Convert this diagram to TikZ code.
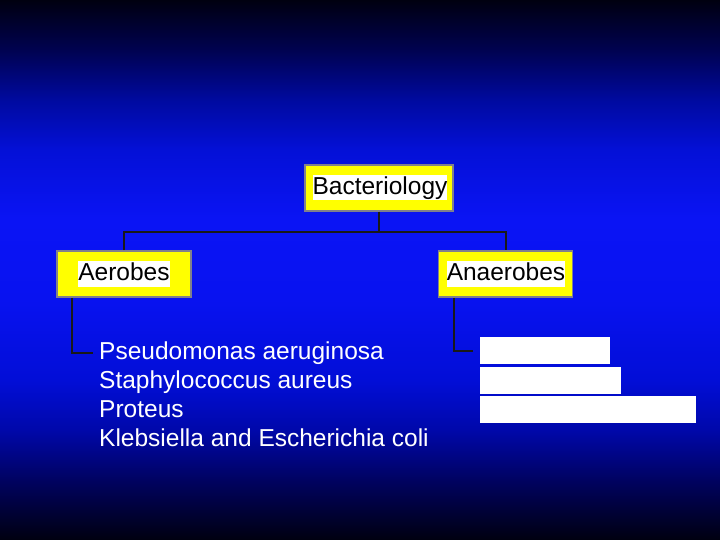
\documentclass[tikz,border=0pt]{standalone}
\usepackage{fontspec}
\setmainfont{Liberation Sans}
\usetikzlibrary{calc}
\definecolor{c0}{RGB}{0,0,16}
\definecolor{c1}{RGB}{0,2,80}
\definecolor{c2}{RGB}{0,10,160}
\definecolor{c3}{RGB}{4,16,215}
\definecolor{c4}{RGB}{10,20,245}
\definecolor{c5}{RGB}{8,18,240}
\definecolor{c6}{RGB}{2,14,215}
\definecolor{c7}{RGB}{0,8,170}
\definecolor{c8}{RGB}{0,2,96}
\definecolor{c9}{RGB}{0,0,16}
\definecolor{ybox}{RGB}{255,255,0}
\definecolor{yborder}{RGB}{128,128,140}
\pgfdeclareverticalshading{bgshade}{100bp}{%
color(0bp)=(c9); color(25bp)=(c9);
color(30.5bp)=(c8); color(35.2bp)=(c7); color(39.8bp)=(c6);
color(47.2bp)=(c5); color(54.6bp)=(c4); color(61.1bp)=(c3);
color(65.7bp)=(c2); color(70.4bp)=(c1);
color(75bp)=(c0); color(100bp)=(c0)}
\tikzset{
  ybx/.style={draw=yborder, line width=1.5bp, fill=ybox, minimum width=134bp, minimum height=46bp, inner sep=0pt},
  hl/.style={fill=white, inner sep=0pt, text height=19bp, text depth=6bp, font=\fontsize{24.5bp}{28bp}\selectfont, text=black},
  item/.style={inner sep=0pt, anchor=base west, text=white, text height=18bp, text depth=5bp, font=\fontsize{24.5bp}{28bp}\selectfont},
  bar/.style={fill=white, inner sep=0pt, anchor=north west, minimum height=27bp},
  conn/.style={draw=black!90, line width=2bp}
}
\begin{document}
\begin{tikzpicture}[x=1bp,y=-1bp]
\useasboundingbox (0,0) rectangle (720,540);
\shade[shading=bgshade] (0,0) rectangle (720,540);
% boxes
\node[ybx, minimum width=148bp] (bact) at (379,188) {};
\node[hl] (bactt) at (380,188) {Bacteriology};
\node[ybx] (aer) at (124,274) {};
\node[hl] (aert) at (124,274) {Aerobes};
\node[ybx] (anaer) at (505.5,274) {};
\node[hl] (anaert) at (506,274) {Anaerobes};
% list
\node[item] (p1) at (99,359) {Pseudomonas aeruginosa};
\node[item] (p2) at (99,388) {Staphylococcus aureus};
\node[item] (p3) at (99,417) {Proteus};
\node[item] (p4) at (99,446) {Klebsiella and Escherichia coli};
% white bars
\node[bar, minimum width=130bp] (b1) at (480,337) {};
\node[bar, minimum width=141bp] (b2) at (480,366.5) {};
\node[bar, minimum width=216bp] (b3) at (480,396) {};
% connectors
\draw[conn] (bact.south) -- ++(0,20) coordinate (j);
\draw[conn] (aer.north) |- (j) -| (anaer.north);
\coordinate (a1) at ($(aer.south west)+(16,0)$);
\coordinate (a2) at ($(anaer.south west)+(16,0)$);
\draw[conn, shorten >=6bp] (a1) |- (p1.west);
\draw[conn, shorten >=7bp] (a2) |- (b1.west);
\end{tikzpicture}
\end{document}
